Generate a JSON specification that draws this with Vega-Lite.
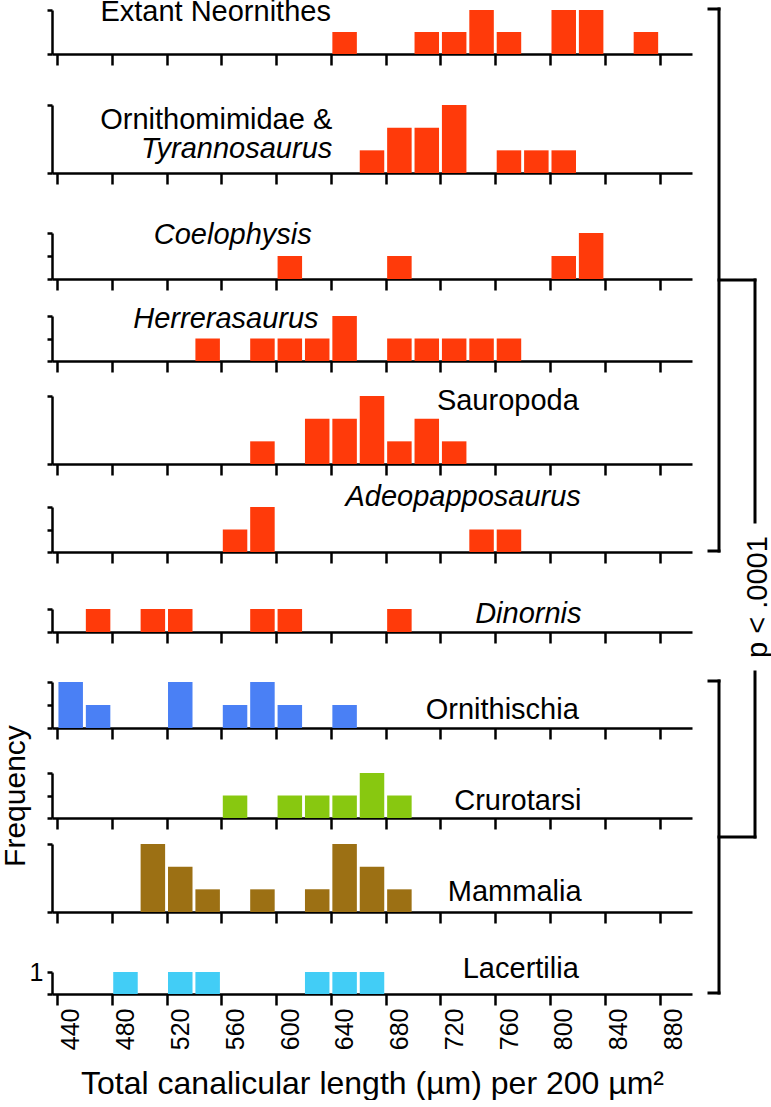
{
  "$schema": "https://vega.github.io/schema/vega-lite/v6.json",
  "padding": {"left": 0, "top": -3, "right": 0, "bottom": 0},
  "background": "white",
  "datasets": {
    "hist": [
      {"group": "Extant Neornithes", "bin": 640, "count": 1},
      {"group": "Extant Neornithes", "bin": 700, "count": 1},
      {"group": "Extant Neornithes", "bin": 720, "count": 1},
      {"group": "Extant Neornithes", "bin": 740, "count": 2},
      {"group": "Extant Neornithes", "bin": 760, "count": 1},
      {"group": "Extant Neornithes", "bin": 800, "count": 2},
      {"group": "Extant Neornithes", "bin": 820, "count": 2},
      {"group": "Extant Neornithes", "bin": 860, "count": 1},
      {"group": "Ornithomimidae & Tyrannosaurus", "bin": 660, "count": 1},
      {"group": "Ornithomimidae & Tyrannosaurus", "bin": 680, "count": 2},
      {"group": "Ornithomimidae & Tyrannosaurus", "bin": 700, "count": 2},
      {"group": "Ornithomimidae & Tyrannosaurus", "bin": 720, "count": 3},
      {"group": "Ornithomimidae & Tyrannosaurus", "bin": 760, "count": 1},
      {"group": "Ornithomimidae & Tyrannosaurus", "bin": 780, "count": 1},
      {"group": "Ornithomimidae & Tyrannosaurus", "bin": 800, "count": 1},
      {"group": "Coelophysis", "bin": 600, "count": 1},
      {"group": "Coelophysis", "bin": 680, "count": 1},
      {"group": "Coelophysis", "bin": 800, "count": 1},
      {"group": "Coelophysis", "bin": 820, "count": 2},
      {"group": "Herrerasaurus", "bin": 540, "count": 1},
      {"group": "Herrerasaurus", "bin": 580, "count": 1},
      {"group": "Herrerasaurus", "bin": 600, "count": 1},
      {"group": "Herrerasaurus", "bin": 620, "count": 1},
      {"group": "Herrerasaurus", "bin": 640, "count": 2},
      {"group": "Herrerasaurus", "bin": 680, "count": 1},
      {"group": "Herrerasaurus", "bin": 700, "count": 1},
      {"group": "Herrerasaurus", "bin": 720, "count": 1},
      {"group": "Herrerasaurus", "bin": 740, "count": 1},
      {"group": "Herrerasaurus", "bin": 760, "count": 1},
      {"group": "Sauropoda", "bin": 580, "count": 1},
      {"group": "Sauropoda", "bin": 620, "count": 2},
      {"group": "Sauropoda", "bin": 640, "count": 2},
      {"group": "Sauropoda", "bin": 660, "count": 3},
      {"group": "Sauropoda", "bin": 680, "count": 1},
      {"group": "Sauropoda", "bin": 700, "count": 2},
      {"group": "Sauropoda", "bin": 720, "count": 1},
      {"group": "Adeopapposaurus", "bin": 560, "count": 1},
      {"group": "Adeopapposaurus", "bin": 580, "count": 2},
      {"group": "Adeopapposaurus", "bin": 740, "count": 1},
      {"group": "Adeopapposaurus", "bin": 760, "count": 1},
      {"group": "Dinornis", "bin": 460, "count": 1},
      {"group": "Dinornis", "bin": 500, "count": 1},
      {"group": "Dinornis", "bin": 520, "count": 1},
      {"group": "Dinornis", "bin": 580, "count": 1},
      {"group": "Dinornis", "bin": 600, "count": 1},
      {"group": "Dinornis", "bin": 680, "count": 1},
      {"group": "Ornithischia", "bin": 440, "count": 2},
      {"group": "Ornithischia", "bin": 460, "count": 1},
      {"group": "Ornithischia", "bin": 520, "count": 2},
      {"group": "Ornithischia", "bin": 560, "count": 1},
      {"group": "Ornithischia", "bin": 580, "count": 2},
      {"group": "Ornithischia", "bin": 600, "count": 1},
      {"group": "Ornithischia", "bin": 640, "count": 1},
      {"group": "Crurotarsi", "bin": 560, "count": 1},
      {"group": "Crurotarsi", "bin": 600, "count": 1},
      {"group": "Crurotarsi", "bin": 620, "count": 1},
      {"group": "Crurotarsi", "bin": 640, "count": 1},
      {"group": "Crurotarsi", "bin": 660, "count": 2},
      {"group": "Crurotarsi", "bin": 680, "count": 1},
      {"group": "Mammalia", "bin": 500, "count": 3},
      {"group": "Mammalia", "bin": 520, "count": 2},
      {"group": "Mammalia", "bin": 540, "count": 1},
      {"group": "Mammalia", "bin": 580, "count": 1},
      {"group": "Mammalia", "bin": 620, "count": 1},
      {"group": "Mammalia", "bin": 640, "count": 3},
      {"group": "Mammalia", "bin": 660, "count": 2},
      {"group": "Mammalia", "bin": 680, "count": 1},
      {"group": "Lacertilia", "bin": 480, "count": 1},
      {"group": "Lacertilia", "bin": 520, "count": 1},
      {"group": "Lacertilia", "bin": 540, "count": 1},
      {"group": "Lacertilia", "bin": 620, "count": 1},
      {"group": "Lacertilia", "bin": 640, "count": 1},
      {"group": "Lacertilia", "bin": 660, "count": 1}
    ]
  },
  "hconcat": [
    {
      "vconcat": [
        {
          "width": 640, "height": 53,
          "layer": [
            {"data": {"name": "hist"}, "transform": [{"filter": "datum.group == 'Extant Neornithes'"}],
             "mark": {"type": "bar", "width": 24.5, "color": "#FF3A0A"},
             "encoding": {
               "x": {"field": "bin", "type": "quantitative", "scale": {"domain": [430, 890], "nice": false, "zero": false}, "axis": {"values": [430,450,470,490,510,530,550,570,590,610,630,650,670,690,710,730,750,770,790,810,830,850,870,890], "title": null}},
               "y": {"field": "count", "type": "quantitative", "scale": {"domain": [0, 2], "range": [53, 9], "nice": false}, "axis": {"values": [0, 1, 2], "title": null}}
             }},
            {"data": {"values": [{}]}, "mark": {"type": "text", "align": "right", "baseline": "alphabetic", "fontSize": 29},
             "encoding": {"x": {"datum": 630}, "y": {"datum": 1.52}, "text": {"value": "Extant Neornithes"}}}
          ]
        },
        {
          "width": 640, "height": 119,
          "layer": [
            {"data": {"name": "hist"}, "transform": [{"filter": "datum.group == 'Ornithomimidae & Tyrannosaurus'"}],
             "mark": {"type": "bar", "width": 24.5, "color": "#FF3A0A"},
             "encoding": {
               "x": {"field": "bin", "type": "quantitative", "scale": {"domain": [430, 890], "nice": false, "zero": false}, "axis": {"values": [430,450,470,490,510,530,550,570,590,610,630,650,670,690,710,730,750,770,790,810,830,850,870,890], "title": null}},
               "y": {"field": "count", "type": "quantitative", "scale": {"domain": [0, 3], "range": [119, 51], "nice": false}, "axis": {"values": [0, 1, 2, 3], "title": null}}
             }},
            {"data": {"values": [{}]}, "mark": {"type": "text", "align": "right", "baseline": "alphabetic", "fontSize": 29},
             "encoding": {"x": {"datum": 631}, "y": {"datum": 1.94}, "text": {"value": "Ornithomimidae &"}}},
            {"data": {"values": [{}]}, "mark": {"type": "text", "align": "right", "baseline": "alphabetic", "fontSize": 29, "fontStyle": "italic"},
             "encoding": {"x": {"datum": 631}, "y": {"datum": 0.66}, "text": {"value": "Tyrannosaurus"}}}
          ]
        },
        {
          "width": 640, "height": 106,
          "layer": [
            {"data": {"name": "hist"}, "transform": [{"filter": "datum.group == 'Coelophysis'"}],
             "mark": {"type": "bar", "width": 24.5, "color": "#FF3A0A"},
             "encoding": {
               "x": {"field": "bin", "type": "quantitative", "scale": {"domain": [430, 890], "nice": false, "zero": false}, "axis": {"values": [430,450,470,490,510,530,550,570,590,610,630,650,670,690,710,730,750,770,790,810,830,850,870,890], "title": null}},
               "y": {"field": "count", "type": "quantitative", "scale": {"domain": [0, 2], "range": [106, 60], "nice": false}, "axis": {"values": [0, 1, 2], "title": null}}
             }},
            {"data": {"values": [{}]}, "mark": {"type": "text", "align": "right", "baseline": "alphabetic", "fontSize": 29, "fontStyle": "italic"},
             "encoding": {"x": {"datum": 616}, "y": {"datum": 1.52}, "text": {"value": "Coelophysis"}}}
          ]
        },
        {
          "width": 640, "height": 82,
          "layer": [
            {"data": {"name": "hist"}, "transform": [{"filter": "datum.group == 'Herrerasaurus'"}],
             "mark": {"type": "bar", "width": 24.5, "color": "#FF3A0A"},
             "encoding": {
               "x": {"field": "bin", "type": "quantitative", "scale": {"domain": [430, 890], "nice": false, "zero": false}, "axis": {"values": [430,450,470,490,510,530,550,570,590,610,630,650,670,690,710,730,750,770,790,810,830,850,870,890], "title": null}},
               "y": {"field": "count", "type": "quantitative", "scale": {"domain": [0, 2], "range": [82, 37], "nice": false}, "axis": {"values": [0, 1, 2], "title": null}}
             }},
            {"data": {"values": [{}]}, "mark": {"type": "text", "align": "right", "baseline": "alphabetic", "fontSize": 29, "fontStyle": "italic"},
             "encoding": {"x": {"datum": 621}, "y": {"datum": 1.47}, "text": {"value": "Herrerasaurus"}}}
          ]
        },
        {
          "width": 640, "height": 103,
          "layer": [
            {"data": {"name": "hist"}, "transform": [{"filter": "datum.group == 'Sauropoda'"}],
             "mark": {"type": "bar", "width": 24.5, "color": "#FF3A0A"},
             "encoding": {
               "x": {"field": "bin", "type": "quantitative", "scale": {"domain": [430, 890], "nice": false, "zero": false}, "axis": {"values": [430,450,470,490,510,530,550,570,590,610,630,650,670,690,710,730,750,770,790,810,830,850,870,890], "title": null}},
               "y": {"field": "count", "type": "quantitative", "scale": {"domain": [0, 3], "range": [103, 35], "nice": false}, "axis": {"values": [0, 1, 2, 3], "title": null}}
             }},
            {"data": {"values": [{}]}, "mark": {"type": "text", "align": "right", "baseline": "alphabetic", "fontSize": 29},
             "encoding": {"x": {"datum": 811}, "y": {"datum": 2.38}, "text": {"value": "Sauropoda"}}}
          ]
        },
        {
          "width": 640, "height": 88,
          "layer": [
            {"data": {"name": "hist"}, "transform": [{"filter": "datum.group == 'Adeopapposaurus'"}],
             "mark": {"type": "bar", "width": 24.5, "color": "#FF3A0A"},
             "encoding": {
               "x": {"field": "bin", "type": "quantitative", "scale": {"domain": [430, 890], "nice": false, "zero": false}, "axis": {"values": [430,450,470,490,510,530,550,570,590,610,630,650,670,690,710,730,750,770,790,810,830,850,870,890], "title": null}},
               "y": {"field": "count", "type": "quantitative", "scale": {"domain": [0, 2], "range": [88, 43], "nice": false}, "axis": {"values": [0, 1, 2], "title": null}}
             }},
            {"data": {"values": [{}]}, "mark": {"type": "text", "align": "right", "baseline": "alphabetic", "fontSize": 29, "fontStyle": "italic"},
             "encoding": {"x": {"datum": 812.5}, "y": {"datum": 2.04}, "text": {"value": "Adeopapposaurus"}}}
          ]
        },
        {
          "width": 640, "height": 80,
          "layer": [
            {"data": {"name": "hist"}, "transform": [{"filter": "datum.group == 'Dinornis'"}],
             "mark": {"type": "bar", "width": 24.5, "color": "#FF3A0A"},
             "encoding": {
               "x": {"field": "bin", "type": "quantitative", "scale": {"domain": [430, 890], "nice": false, "zero": false}, "axis": {"values": [430,450,470,490,510,530,550,570,590,610,630,650,670,690,710,730,750,770,790,810,830,850,870,890], "title": null}},
               "y": {"field": "count", "type": "quantitative", "scale": {"domain": [0, 1], "range": [80, 57], "nice": false}, "axis": {"values": [0, 1], "title": null}}
             }},
            {"data": {"values": [{}]}, "mark": {"type": "text", "align": "right", "baseline": "alphabetic", "fontSize": 29, "fontStyle": "italic"},
             "encoding": {"x": {"datum": 813}, "y": {"datum": 0.39}, "text": {"value": "Dinornis"}}}
          ]
        },
        {
          "width": 640, "height": 96,
          "layer": [
            {"data": {"name": "hist"}, "transform": [{"filter": "datum.group == 'Ornithischia'"}],
             "mark": {"type": "bar", "width": 24.5, "color": "#4A80F5"},
             "encoding": {
               "x": {"field": "bin", "type": "quantitative", "scale": {"domain": [430, 890], "nice": false, "zero": false}, "axis": {"values": [430,450,470,490,510,530,550,570,590,610,630,650,670,690,710,730,750,770,790,810,830,850,870,890], "title": null}},
               "y": {"field": "count", "type": "quantitative", "scale": {"domain": [0, 2], "range": [96, 50], "nice": false}, "axis": {"values": [0, 1, 2], "title": null}}
             }},
            {"data": {"values": [{}]}, "mark": {"type": "text", "align": "right", "baseline": "alphabetic", "fontSize": 29},
             "encoding": {"x": {"datum": 811}, "y": {"datum": 0.39}, "text": {"value": "Ornithischia"}}}
          ]
        },
        {
          "width": 640, "height": 90,
          "layer": [
            {"data": {"name": "hist"}, "transform": [{"filter": "datum.group == 'Crurotarsi'"}],
             "mark": {"type": "bar", "width": 24.5, "color": "#88C810"},
             "encoding": {
               "x": {"field": "bin", "type": "quantitative", "scale": {"domain": [430, 890], "nice": false, "zero": false}, "axis": {"values": [430,450,470,490,510,530,550,570,590,610,630,650,670,690,710,730,750,770,790,810,830,850,870,890], "title": null}},
               "y": {"field": "count", "type": "quantitative", "scale": {"domain": [0, 2], "range": [90, 45], "nice": false}, "axis": {"values": [0, 1, 2], "title": "Frequency", "titleFontSize": 30, "titlePadding": 15}}
             }},
            {"data": {"values": [{}]}, "mark": {"type": "text", "align": "right", "baseline": "alphabetic", "fontSize": 29},
             "encoding": {"x": {"datum": 813}, "y": {"datum": 0.36}, "text": {"value": "Crurotarsi"}}}
          ]
        },
        {
          "width": 640, "height": 94,
          "layer": [
            {"data": {"name": "hist"}, "transform": [{"filter": "datum.group == 'Mammalia'"}],
             "mark": {"type": "bar", "width": 24.5, "color": "#9C7014"},
             "encoding": {
               "x": {"field": "bin", "type": "quantitative", "scale": {"domain": [430, 890], "nice": false, "zero": false}, "axis": {"values": [430,450,470,490,510,530,550,570,590,610,630,650,670,690,710,730,750,770,790,810,830,850,870,890], "title": null}},
               "y": {"field": "count", "type": "quantitative", "scale": {"domain": [0, 3], "range": [94, 26], "nice": false}, "axis": {"values": [0, 1, 2, 3], "title": null}}
             }},
            {"data": {"values": [{}]}, "mark": {"type": "text", "align": "right", "baseline": "alphabetic", "fontSize": 29},
             "encoding": {"x": {"datum": 813}, "y": {"datum": 0.49}, "text": {"value": "Mammalia"}}}
          ]
        },
        {
          "width": 640, "height": 82,
          "layer": [
            {"data": {"name": "hist"}, "transform": [{"filter": "datum.group == 'Lacertilia'"}],
             "mark": {"type": "bar", "width": 24.5, "color": "#42CDF6"},
             "encoding": {
               "x": {"field": "bin", "type": "quantitative", "scale": {"domain": [430, 890], "nice": false, "zero": false},
                     "axis": {"values": [430,450,470,490,510,530,550,570,590,610,630,650,670,690,710,730,750,770,790,810,830,850,870,890],
                              "labels": true, "labelExpr": "(datum.value - 430) % 40 == 0 ? format(datum.value + 10, 'd') : ''",
                              "labelAngle": -90, "labelOffset": 13.9, "labelFontSize": 25, "labelPadding": 3,
                              "labelFlush": false, "labelOverlap": false, "labelBound": false,
                              "title": "Total canalicular length (µm) per 200 µm²", "titleFontSize": 32, "titlePadding": 19}},
               "y": {"field": "count", "type": "quantitative", "scale": {"domain": [0, 1], "range": [82, 60], "nice": false},
                     "axis": {"values": [0, 1], "title": null, "labels": true, "labelExpr": "datum.value == 1 ? '1' : ''", "labelFontSize": 25, "labelPadding": 4}}
             }},
            {"data": {"values": [{}]}, "mark": {"type": "text", "align": "right", "baseline": "alphabetic", "fontSize": 29},
             "encoding": {"x": {"datum": 811}, "y": {"datum": 0.73}, "text": {"value": "Lacertilia"}}}
          ]
        }
      ],
      "spacing": 0,
      "bounds": "flush"
    },
    {
      "width": 64, "height": 993,
      "data": {"values": [{}]},
      "layer": [
        {"mark": {"type": "rule", "strokeWidth": 3, "color": "black", "strokeCap": "square"},
         "encoding": {
           "x": {"datum": 1, "type": "quantitative", "scale": {"domain": [0, 6.4], "nice": false, "zero": false}, "axis": null},
           "y": {"datum": 8, "type": "quantitative", "scale": {"domain": [0, 993], "reverse": true, "nice": false, "zero": false}, "axis": null},
           "y2": {"datum": 550}
         }},
        {"mark": {"type": "rule", "strokeWidth": 3, "color": "black", "strokeCap": "square"},
         "encoding": {"x": {"datum": 0}, "x2": {"datum": 1}, "y": {"datum": 8}}},
        {"mark": {"type": "rule", "strokeWidth": 3, "color": "black", "strokeCap": "square"},
         "encoding": {"x": {"datum": 0}, "x2": {"datum": 1}, "y": {"datum": 550}}},
        {"mark": {"type": "rule", "strokeWidth": 3, "color": "black", "strokeCap": "square"},
         "encoding": {"x": {"datum": 1}, "y": {"datum": 680}, "y2": {"datum": 992}}},
        {"mark": {"type": "rule", "strokeWidth": 3, "color": "black", "strokeCap": "square"},
         "encoding": {"x": {"datum": 0}, "x2": {"datum": 1}, "y": {"datum": 680}}},
        {"mark": {"type": "rule", "strokeWidth": 3, "color": "black", "strokeCap": "square"},
         "encoding": {"x": {"datum": 0}, "x2": {"datum": 1}, "y": {"datum": 992}}},
        {"mark": {"type": "rule", "strokeWidth": 3, "color": "black", "strokeCap": "square"},
         "encoding": {"x": {"datum": 1}, "x2": {"datum": 4.6}, "y": {"datum": 279}}},
        {"mark": {"type": "rule", "strokeWidth": 3, "color": "black", "strokeCap": "square"},
         "encoding": {"x": {"datum": 1}, "x2": {"datum": 4.6}, "y": {"datum": 836}}},
        {"mark": {"type": "rule", "strokeWidth": 3, "color": "black", "strokeCap": "square"},
         "encoding": {"x": {"datum": 4.6}, "y": {"datum": 279}, "y2": {"datum": 521}}},
        {"mark": {"type": "rule", "strokeWidth": 3, "color": "black", "strokeCap": "square"},
         "encoding": {"x": {"datum": 4.6}, "y": {"datum": 671}, "y2": {"datum": 836}}},
        {"mark": {"type": "text", "angle": 270, "align": "center", "baseline": "middle", "fontSize": 29},
         "encoding": {"x": {"datum": 4.85}, "y": {"datum": 596}, "text": {"value": "p < .0001"}}}
      ]
    }
  ],
  "spacing": 14,
  "bounds": "full",
  "config": {
    "view": {"stroke": null},
    "font": "Liberation Sans",
    "text": {"font": "Liberation Sans", "color": "black"},
    "axis": {
      "domainColor": "black", "domainWidth": 2.5,
      "tickColor": "black", "tickWidth": 2.5,
      "labelColor": "black", "titleColor": "black",
      "labelFont": "Liberation Sans", "titleFont": "Liberation Sans",
      "titleFontWeight": "normal", "grid": false
    },
    "axisX": {"tickSize": 11, "labels": false},
    "axisY": {"tickSize": 5, "labels": false}
  }
}
